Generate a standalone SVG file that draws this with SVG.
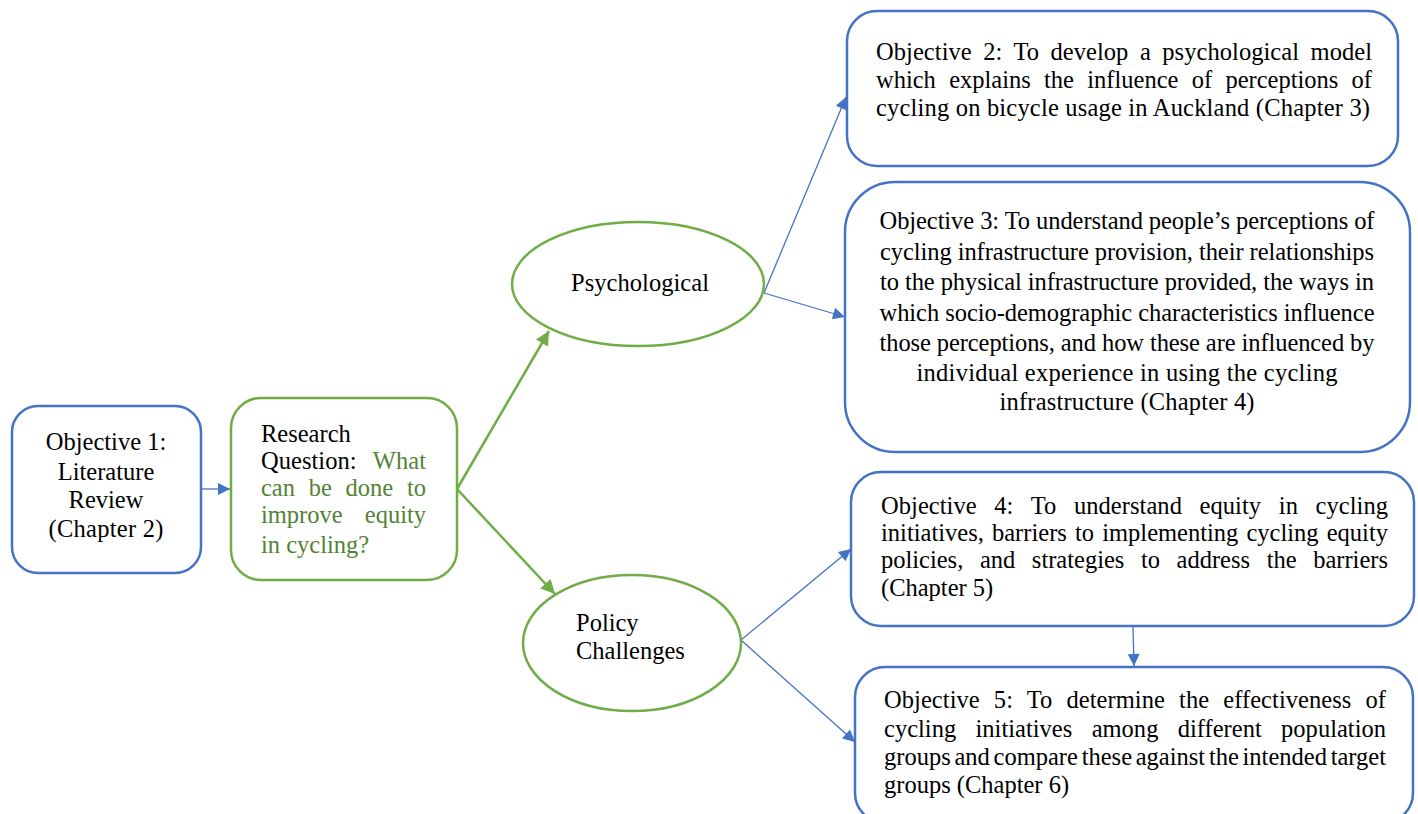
<svg xmlns="http://www.w3.org/2000/svg" width="1418" height="814" viewBox="0 0 1418 814">
<style>
text{font-family:"Liberation Serif","Times New Roman",serif;font-size:24.5px;fill:#000}
.bbox{fill:#fff;stroke:#4472C4;stroke-width:2.5}
.gbox{fill:#fff;stroke:#70AD47;stroke-width:2.5}
.bl{stroke:#4472C4;stroke-width:1.3;fill:none}
.gl{stroke:#70AD47;stroke-width:2.5;fill:none}
.gt{fill:#548235}
.mid{text-anchor:middle}
</style>
<defs>
<marker id="ab" viewBox="0 0 10 10" refX="10" refY="5" markerWidth="14" markerHeight="12" markerUnits="userSpaceOnUse" orient="auto"><path d="M0,0 L10,5 L0,10 z" fill="#4472C4"/></marker>
<marker id="ag" viewBox="0 0 10 10" refX="10" refY="5" markerWidth="16" markerHeight="14" markerUnits="userSpaceOnUse" orient="auto"><path d="M0,0 L10,5 L0,10 z" fill="#70AD47"/></marker>
</defs>
<g id="connectors">
<line class="bl" x1="201" y1="489" x2="230" y2="489" marker-end="url(#ab)"/>
<line class="gl" x1="457" y1="489" x2="549" y2="331" marker-end="url(#ag)"/>
<line class="gl" x1="457" y1="489" x2="555" y2="594" marker-end="url(#ag)"/>
<line class="bl" x1="764" y1="293" x2="846" y2="97" marker-end="url(#ab)"/>
<line class="bl" x1="764" y1="293" x2="845" y2="317" marker-end="url(#ab)"/>
<line class="bl" x1="741" y1="640" x2="851" y2="549" marker-end="url(#ab)"/>
<line class="bl" x1="741" y1="640" x2="855" y2="742" marker-end="url(#ab)"/>
<line class="bl" x1="1133" y1="627" x2="1134" y2="666" marker-end="url(#ab)"/>
</g>
<g id="obj1">
<rect class="bbox" x="12" y="406" width="189" height="167" rx="26"/>
<text class="mid" x="106" y="450">Objective 1:</text>
<text class="mid" x="106" y="480">Literature</text>
<text class="mid" x="106" y="508">Review</text>
<text class="mid" x="106" y="537" textLength="115" lengthAdjust="spacing">(Chapter 2)</text>
</g>
<g id="rq">
<rect class="gbox" x="231" y="398" width="226" height="182" rx="30"/>
<text x="261" y="442">Research</text>
<text x="261" y="469" word-spacing="10.5" textLength="165" lengthAdjust="spacing">Question: <tspan class="gt">What</tspan></text>
<text class="gt" x="261" y="496" word-spacing="7.6" textLength="165" lengthAdjust="spacing">can be done to</text>
<text class="gt" x="261" y="523" word-spacing="16" textLength="165" lengthAdjust="spacing">improve equity</text>
<text class="gt" x="261" y="553">in cycling?</text>
</g>
<g id="psych">
<ellipse class="gbox" cx="638" cy="284" rx="126" ry="62"/>
<text x="571" y="291" textLength="138" lengthAdjust="spacing">Psychological</text>
</g>
<g id="policy">
<ellipse class="gbox" cx="632" cy="643" rx="109" ry="68"/>
<text x="576" y="631">Policy</text>
<text x="576" y="659">Challenges</text>
</g>
<g id="obj2">
<rect class="bbox" x="847" y="11" width="551" height="155" rx="30"/>
<text x="876" y="60" word-spacing="5.3" textLength="496" lengthAdjust="spacing">Objective 2: To develop a psychological model</text>
<text x="876" y="88" word-spacing="7.2" textLength="496" lengthAdjust="spacing">which explains the influence of perceptions of</text>
<text x="876" y="116" textLength="494" lengthAdjust="spacing">cycling on bicycle usage in Auckland (Chapter 3)</text>
</g>
<g id="obj3">
<rect class="bbox" x="845" y="182" width="565" height="270" rx="50"/>
<text class="mid" x="1127" y="229" textLength="495" lengthAdjust="spacing">Objective 3: To understand people’s perceptions of</text>
<text class="mid" x="1127" y="260" textLength="494" lengthAdjust="spacing">cycling infrastructure provision, their relationships</text>
<text class="mid" x="1127" y="290" textLength="494" lengthAdjust="spacing">to the physical infrastructure provided, the ways in</text>
<text class="mid" x="1127" y="321" textLength="495" lengthAdjust="spacing">which socio-demographic characteristics influence</text>
<text class="mid" x="1127" y="351" textLength="495" lengthAdjust="spacing">those perceptions, and how these are influenced by</text>
<text class="mid" x="1127" y="381" textLength="421" lengthAdjust="spacing">individual experience in using the cycling</text>
<text class="mid" x="1127" y="410" textLength="255" lengthAdjust="spacing">infrastructure (Chapter 4)</text>
</g>
<g id="obj4">
<rect class="bbox" x="851" y="472" width="563" height="154" rx="30"/>
<text x="881" y="514" word-spacing="11.5" textLength="507" lengthAdjust="spacing">Objective 4: To understand equity in cycling</text>
<text x="881" y="541" word-spacing="2" textLength="507" lengthAdjust="spacing">initiatives, barriers to implementing cycling equity</text>
<text x="881" y="568" word-spacing="10.5" textLength="507" lengthAdjust="spacing">policies, and strategies to address the barriers</text>
<text x="881" y="596">(Chapter 5)</text>
</g>
<g id="obj5">
<rect class="bbox" x="855" y="667" width="558" height="156" rx="30"/>
<text x="884" y="708" word-spacing="7.9" textLength="502" lengthAdjust="spacing">Objective 5: To determine the effectiveness of</text>
<text x="884" y="737" word-spacing="13.2" textLength="502" lengthAdjust="spacing">cycling initiatives among different population</text>
<text x="884" y="765" word-spacing="-2.4" textLength="502" lengthAdjust="spacing">groups and compare these against the intended target</text>
<text x="884" y="793">groups (Chapter 6)</text>
</g>
</svg>
